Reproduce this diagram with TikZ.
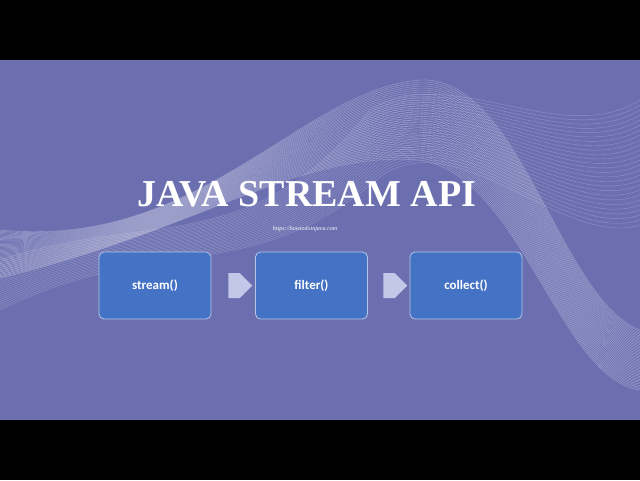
\documentclass[tikz,border=0pt]{standalone}
\usepackage{fontspec}
\setmainfont{Liberation Serif}
\newfontfamily\boxfont{Carlito}
\usetikzlibrary{shapes.arrows}
\definecolor{bgp}{HTML}{6B6FB0}
\definecolor{boxb}{HTML}{4472C4}
\definecolor{arr}{HTML}{C3C8E8}
\begin{document}
\begin{tikzpicture}[x=1pt,y=-1pt,
  stepbox/.style={draw=white!60!boxb,line width=0.8pt,fill=boxb,rounded corners=5pt,minimum width=112pt,minimum height=67pt,text=white,font=\boxfont\bfseries\fontsize{13}{13}\selectfont},
  flow/.style={single arrow,fill=arr,draw=none,minimum width=25pt,single arrow head extend=0pt,minimum height=24pt,inner sep=0pt,single arrow tip angle=90},
  wave/.style={white,opacity=0.35,line width=0.4pt}]
\useasboundingbox (0,0) rectangle (640,480);
\fill[black] (0,0) rectangle (640,480);
\fill[bgp] (0,60) rectangle (640,420);
\begin{scope}
\clip (0,60) rectangle (640,420);
\foreach \i in {0,...,40}{
  \draw[wave] (0,{230+1.2*\i}) .. controls (200,{250-0.5*\i}) and (300,{90+1.5*\i}) .. (420,{80+2*\i})
     .. controls (520,{75+2.5*\i}) and (560,{300+2*\i}) .. (640,{330+1.5*\i});
}
\foreach \i in {0,...,25}{
  \draw[wave,opacity=0.25] (0,{260+2*\i}) .. controls (150,{210+\i}) and (250,{260+\i}) .. (370,{110+3*\i})
     .. controls (450,{60+2*\i}) and (560,{150+4*\i}) .. (640,{100+5*\i});
}
\end{scope}
\node[text=white,font=\bfseries\fontsize{38}{38}\selectfont] (title) at (307,194) {JAVA STREAM API};
\node[text=white,font=\itshape\fontsize{6}{6}\selectfont] (url) at (305,229) {https://howtodoinjava.com};
\node[stepbox] (s) at (155,285.5) {stream()};
\node[stepbox] (f) at (311.5,285.5) {filter()};
\node[stepbox] (c) at (466,285.5) {collect()};
\node[flow] (a1) at (234,285.5) {};
\node[flow] (a2) at (389,285.5) {};
\end{tikzpicture}
\end{document}
